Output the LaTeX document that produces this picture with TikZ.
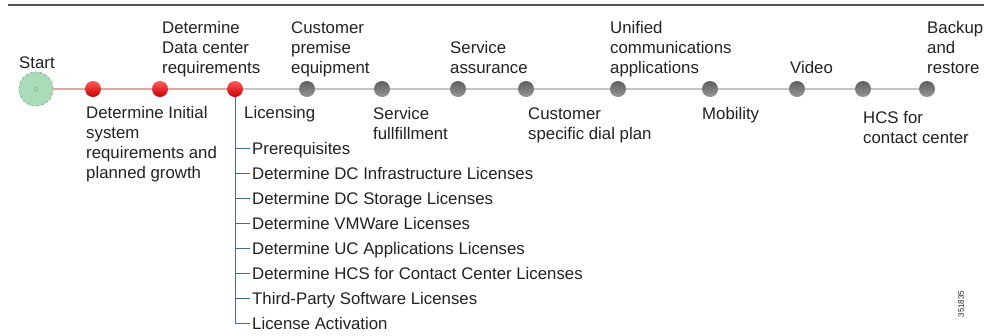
\documentclass[tikz,border=0pt]{standalone}
\usepackage{fontspec}
\setmainfont{Liberation Sans}
\definecolor{txt}{HTML}{222222}
\definecolor{topl}{HTML}{555555}
\definecolor{pinkl}{HTML}{E6A5A5}
\definecolor{grayl}{HTML}{C4C4C4}
\definecolor{treel}{HTML}{3F6E8E}
\definecolor{startfill}{HTML}{AADCBA}
\definecolor{startdraw}{HTML}{86B595}
\tikzset{
  lbl/.style={anchor=base west, inner sep=0pt, align=left, text=txt,
    font=\fontsize{16.8pt}{20pt}\selectfont},
  reddot/.style={circle, minimum size=16pt, inner sep=0pt,
    top color={rgb,255:red,255;green,90;blue,90}, bottom color={rgb,255:red,200;green,0;blue,0}},
  graydot/.style={circle, minimum size=16pt, inner sep=0pt,
    top color={rgb,255:red,95;green,95;blue,95}, bottom color={rgb,255:red,150;green,150;blue,150}},
  tick/.style={draw=treel, line width=1pt},
}
\begin{document}
\begin{tikzpicture}[x=1pt,y=-1pt]
\useasboundingbox (0,0) rectangle (984,335);
\fill[white] (0,0) rectangle (984,335);
% top rule
\coordinate (tl) at (8,5);
\coordinate (tr) at (984,5);
\draw[topl, line width=1.5pt] (tl) -- (tr);

% dots
\node[circle, minimum size=34pt, inner sep=0pt, fill=startfill, draw=startdraw, densely dashed, line width=0.8pt] (s) at (36,89) {};
\node[circle, minimum size=4pt, inner sep=0pt, draw=startdraw, line width=0.6pt] (sc) at (36,89) {};
\node[reddot] (r1) at (93,89) {};
\node[reddot] (r2) at (160,89) {};
\node[reddot] (r3) at (235,89) {};
\node[graydot] (g1) at (307,89) {};
\node[graydot] (g2) at (382,89) {};
\node[graydot] (g3) at (458,89) {};
\node[graydot] (g4) at (526,89) {};
\node[graydot] (g5) at (618,89) {};
\node[graydot] (g6) at (710,89) {};
\node[graydot] (g7) at (797,89) {};
\node[graydot] (g8) at (863,89) {};
\node[graydot] (g9) at (927,89) {};

% connecting lines (drawn between nodes)
\draw[pinkl, line width=1.6pt] (s) -- (r1);
\draw[pinkl, line width=1.6pt] (r1) -- (r2);
\draw[pinkl, line width=1.6pt] (r2) -- (r3);
\draw[grayl, line width=1.6pt] (r3) -- (g1);
\draw[grayl, line width=1.6pt] (g1) -- (g2);
\draw[grayl, line width=1.6pt] (g2) -- (g3);
\draw[grayl, line width=1.6pt] (g3) -- (g4);
\draw[grayl, line width=1.6pt] (g4) -- (g5);
\draw[grayl, line width=1.6pt] (g5) -- (g6);
\draw[grayl, line width=1.6pt] (g6) -- (g7);
\draw[grayl, line width=1.6pt] (g7) -- (g8);
\draw[grayl, line width=1.6pt] (g8) -- (g9);

% labels above (anchor = baseline of last line)
\node[lbl] (ls) at (19,68) {Start};
\node[lbl] (l2) at (162,73) {Determine\\Data center\\requirements};
\node[lbl] (lg1) at (291,73) {Customer\\premise\\equipment};
\node[lbl] (lg3) at (450,73) {Service\\assurance};
\node[lbl] (lg5) at (610,73) {Unified\\communications\\applications};
\node[lbl] (lg7) at (790,73) {Video};
\node[lbl] (lg9) at (927,73) {Backup\\and\\restore};

% labels below
\node[lbl] (l1) at (86,178) {Determine Initial\\system\\requirements and\\planned growth};
\node[lbl] (l3) at (244,118) {Licensing};
\node[lbl] (lg2) at (373,139) {Service\\fullfillment};
\node[lbl] (lg4) at (528,139) {Customer\\specific dial plan};
\node[lbl] (lg6) at (702,119) {Mobility};
\node[lbl] (lg8) at (863,143) {HCS for\\contact center};

% licensing tree
\node[lbl] (t1) at (252,154) {Prerequisites};
\node[lbl] (t2) at (252,179) {Determine DC Infrastructure Licenses};
\node[lbl] (t3) at (252,204) {Determine DC Storage Licenses};
\node[lbl] (t4) at (252,229) {Determine VMWare Licenses};
\node[lbl] (t5) at (252,254) {Determine UC Applications Licenses};
\node[lbl] (t6) at (252,279) {Determine HCS for Contact Center Licenses};
\node[lbl] (t7) at (252,304) {Third-Party Software Licenses};
\node[lbl] (t8) at (252,329) {License Activation};
\foreach \i/\yy in {1/148,2/173,3/198,4/223,5/248,6/273,7/298} {
  \draw[tick] (235,\yy) -- ([xshift=-2pt]t\i.west |- 0,\yy);
}
\draw[tick] (r3.south) -- (235,323) -- ([xshift=-2pt]t8.west |- 0,323);

% figure number
\node[rotate=90, inner sep=0pt, text=txt, font=\fontsize{8pt}{9pt}\selectfont] (fig) at (961,304) {351835};
\end{tikzpicture}
\end{document}
